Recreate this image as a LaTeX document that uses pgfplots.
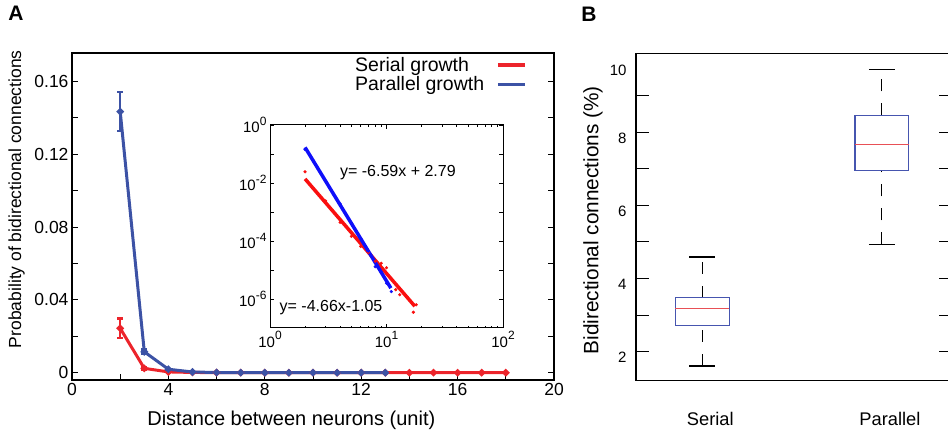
\documentclass[border=0pt]{standalone}
\usepackage{pgfplots}
\usepackage{pgfplotstable}
\pgfplotsset{compat=1.18}
\usepackage{fontspec}
\setmainfont{Liberation Sans}

\definecolor{serialred}{RGB}{236,36,43}
\definecolor{parallelblue}{RGB}{60,82,165}
\definecolor{fitred}{RGB}{250,15,15}
\definecolor{fitblue}{RGB}{15,15,250}
\definecolor{boxblue}{RGB}{70,85,175}
\definecolor{medianred}{RGB}{232,80,86}

\pgfplotsset{/pgf/number format/assume math mode=true}

% power-of-ten tick label in the text font
\newcommand{\pten}[1]{10\raisebox{0.5em}{\fontsize{12}{12}\selectfont#1}}

\pgfplotsset{
  whisk/.style={draw=black, line width=1.1pt, dash pattern=on 12pt off 12pt},
  capst/.style={draw=black, line width=1.2pt},
  boxst/.style={draw=boxblue, line width=1.2pt},
  medst/.style={draw=medianred, line width=1.4pt},
}

% probability of a bidirectional pair vs. distance (mean, error)
\pgfplotstableread{
x  y          e
2  0.0244     0.0053
3  0.0024     0.0008
4  0.00044    0.0002
5  0.000145   0
6  0.000065   0
7  0.00004    0
8  0.00002    0
9  0.000017   0
10 0.000012   0
11 0.0000049  0
12 0.0000021  0
13 0.0000014  0
14 0.0000016  0
15 0.00000116 0
16 0.00000086 0
17 0.00000035 0
18 0.00000063 0
}\serialdata
\pgfplotstableread{
x  y          e
2  0.1435     0.0108
3  0.0115     0.0012
4  0.0019     0.0003
5  0.0004     0
6  0.00012    0
7  0.000045   0
8  0.000013   0
9  0.0000085  0
10 0.0000035  0
11 0.0000018  0
12 0.0000010  0
13 0.0000006  0
}\paralleldata

\begin{document}
\begin{tikzpicture}
\path[use as bounding box, clip] (0pt,0pt) rectangle (948pt,433pt);

% ---------------- Panel A ----------------
\begin{axis}[
  at={(72pt,53pt)}, anchor=south west,
  scale only axis, width=482pt, height=327pt,
  xmin=0, xmax=20, ymin=-0.004, ymax=0.1757,
  xtick={0,4,...,20}, minor xtick={2,6,...,18},
  ytick={0,0.04,0.08,0.12,0.16},
  yticklabels={0,0.04,0.08,0.12,0.16},
  minor ytick={0.02,0.06,0.10,0.14},
  tick align=inside, xtick pos=bottom, ytick pos=both, yticklabel pos=left,
  major tick length=6pt, minor tick length=6pt,
  tick style={black, line width=1pt},
  axis line style={line width=1.2pt},
  tick label style={font=\fontsize{17.5}{20}\selectfont},
  xlabel={Distance between neurons (unit)},
  ylabel={Probability of bidirectional connections},
  xlabel style={font=\fontsize{20}{24}\selectfont, at={(axis description cs:0.455,-0.122)}, anchor=center},
  ylabel style={font=\fontsize{17.5}{21}\selectfont, at={(axis description cs:-0.115,0.553)}, anchor=center},
  legend style={at={(0.95,1.0)}, anchor=north east, draw=none, fill=none,
    font=\fontsize{19.5}{23}\selectfont},
  legend cell align=left,
  legend plot pos=right,
  legend image code/.code={\path (0pt,0pt); \draw[#1] (10pt,0pt) -- (37pt,0pt);},
]
\addplot[forget plot, serialred, line width=3pt, mark=*, mark size=1.9pt,
  error bars/.cd, y dir=both, y explicit,
  error bar style={line width=2.4pt},
  error mark options={rotate=90, mark size=3pt, line width=2.4pt}]
  table[x=x, y=y, y error=e] {\serialdata};
\addplot[forget plot, parallelblue, line width=3pt, mark=*, mark size=1.9pt,
  error bars/.cd, y dir=both, y explicit,
  error bar style={line width=2.4pt},
  error mark options={rotate=90, mark size=3pt, line width=2.4pt}]
  table[x=x, y=y, y error=e] {\paralleldata};
\addlegendimage{serialred, line width=3.5pt}
\addlegendentry{Serial growth}
\addlegendimage{parallelblue, line width=3.5pt}
\addlegendentry{Parallel growth}
\end{axis}

% ---------------- Inset: log-log fits ----------------
\begin{axis}[
  at={(270pt,105pt)}, anchor=south west,
  scale only axis, width=233pt, height=203pt,
  xmode=log, ymode=log,
  xmin=1, xmax=100, ymin=1e-7, ymax=1,
  axis background/.style={fill=white},
  xtick={1,10,100}, xticklabels={\pten{0},\pten{1},\pten{2}},
  ytick={1,0.1,0.01,0.001,0.0001,0.00001,0.000001},
  yticklabels={\pten{0},,\pten{-2},,\pten{-4},,\pten{-6}},
  minor y tick style={draw=none},
  tick align=inside, xtick pos=both, ytick pos=both,
  xticklabel pos=bottom, yticklabel pos=left,
  major tick length=4pt, minor tick length=2.5pt,
  tick style={black, line width=0.8pt},
  axis line style={line width=1pt},
  tick label style={font=\fontsize{15}{18}\selectfont},
]
\addplot[fitred, line width=3.5pt] coordinates {(2,0.01384) (17.5,5.64e-7)};
\addplot[fitblue, line width=3.5pt] coordinates {(2,0.1690) (10.9,2.37e-6)};
\addplot[only marks, fitred, mark=*, mark size=1.4pt] table[x=x, y=y] {\serialdata};
\addplot[only marks, fitblue, mark=*, mark size=1.4pt, skip coords between index={10}{12}] table[x=x, y=y] {\paralleldata};
\node[font=\fontsize{16}{19}\selectfont] at (rel axis cs:0.549,0.764) {y= -6.59x + 2.79};
\node[font=\fontsize{16}{19}\selectfont] at (rel axis cs:0.262,0.103) {y= -4.66x-1.05};
\end{axis}

% ---------------- Panel B ----------------
% box: quartiles 2.71/3.475 (serial), 6.95/8.46 (parallel)
% medians 3.175 / 7.66; whiskers 1.61-4.59 / 4.93-9.71
\begin{axis}[
  at={(636pt,52.3pt)}, anchor=south west,
  scale only axis, width=316pt, height=327.4pt,
  xmin=0.631, xmax=2.39, ymin=1.208, ymax=10.153,
  xtick={1,2}, xticklabels={Serial,Parallel},
  x tick style={draw=none},
  xticklabel style={font=\fontsize{18.3}{22}\selectfont, yshift=-28pt, xshift=8pt},
  ytick={2,3,...,9}, yticklabels={2,,4,,6,,8,},
  extra y ticks={10}, extra y tick labels={10},
  extra y tick style={major tick length=0pt, yticklabel style={yshift=-5.5pt}},
  yticklabel style={font=\fontsize{15}{18}\selectfont, yshift=-6pt, xshift=-6pt},
  tick align=inside, ytick pos=both, yticklabel pos=left,
  major tick length=13pt,
  tick style={black, line width=1pt},
  axis line style={line width=1.2pt},
  ylabel={Bidirectional connections (\%)},
  ylabel style={font=\fontsize{20.8}{24}\selectfont, at={(axis description cs:-0.136,0.49)}, anchor=center},
]
% Serial
\addplot[whisk] coordinates {(1,1.61) (1,2.71)};
\addplot[whisk] coordinates {(1,3.475) (1,4.59)};
\addplot[capst] coordinates {(0.9275,1.61) (1.0725,1.61)};
\addplot[capst] coordinates {(0.9275,4.59) (1.0725,4.59)};
\addplot[boxst] coordinates {(0.85,2.71) (1.15,2.71) (1.15,3.475) (0.85,3.475) (0.85,2.71)};
\addplot[medst] coordinates {(0.85,3.175) (1.15,3.175)};
% Parallel
\addplot[whisk] coordinates {(2,4.93) (2,6.95)};
\addplot[whisk] coordinates {(2,8.46) (2,9.71)};
\addplot[capst] coordinates {(1.9275,4.93) (2.0725,4.93)};
\addplot[capst] coordinates {(1.9275,9.71) (2.0725,9.71)};
\addplot[boxst] coordinates {(1.85,6.95) (2.15,6.95) (2.15,8.46) (1.85,8.46) (1.85,6.95)};
\addplot[medst] coordinates {(1.85,7.66) (2.15,7.66)};
\end{axis}

% panel letters
\node[font=\bfseries\fontsize{21}{24}\selectfont] at (16pt,420pt) {A};
\node[font=\bfseries\fontsize{21}{24}\selectfont] at (589pt,419pt) {B};
\end{tikzpicture}
\end{document}
